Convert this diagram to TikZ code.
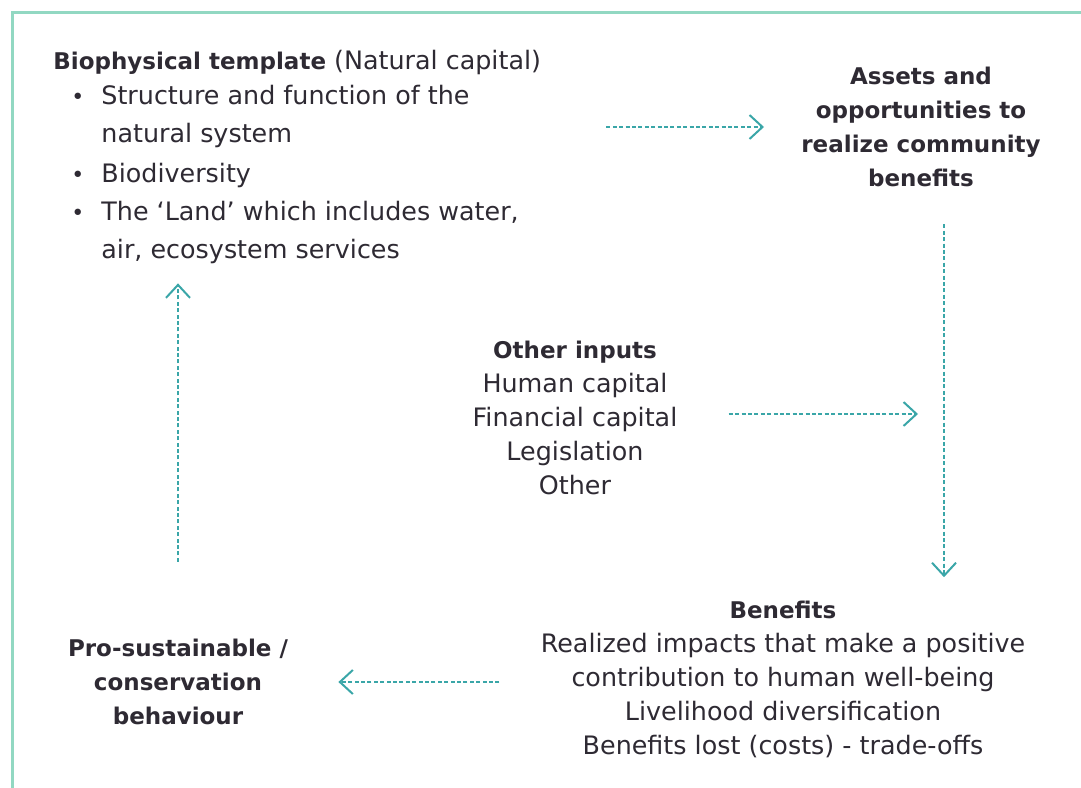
\documentclass[tikz,border=0pt]{standalone}
\usepackage{fontspec}
\setmainfont{DejaVu Sans}
\usepackage{tikz}
\usetikzlibrary{positioning, arrows.meta}
\definecolor{frameteal}{HTML}{92D8C2}
\definecolor{arrowteal}{HTML}{3AA6A8}
\definecolor{inkgray}{HTML}{2E2A33}
\tikzstyle{txt}   = [inner sep=0pt, text=inkgray, font=\fontsize{12.7}{17}\selectfont, align=center]
\tikzstyle{boldtxt} = [txt, font=\bfseries\fontsize{11.5}{17}\selectfont]
\tikzstyle{flow}  = [draw=arrowteal, line width=1pt, dash pattern=on 2pt off 1.2pt, -{Straight Barb[length=6.5pt, width=12pt, line width=1pt]}]
\newcommand{\hd}[1]{{\bfseries\fontsize{11.5}{17}\selectfont #1}}
\newcommand{\bitem}[1]{\makebox[24pt][l]{\hspace{9pt}{\fontsize{11}{17}\selectfont\textbullet}}#1}

\begin{document}
\begin{tikzpicture}[x=0.5pt, y=-0.5pt]
            \useasboundingbox (0,0) rectangle (1081,787);
            \clip (0,0) rectangle (1081,787);
            \draw[frameteal, line width=1.5pt] (1100,12) -- (12,12) -- (12,800);

            \node[txt, align=left, anchor=north west, font=\fontsize{12.7}{19}\selectfont] (bio) at (53,50)
                {\hd{Biophysical template} (Natural capital)\\[-1.5pt]
                 \bitem{Structure and function of the}\\
                 \hspace*{24pt}natural system\\[1pt]
                 \bitem{Biodiversity}\\
                 \bitem{The `Land' which includes water,}\\
                 \hspace*{24pt}air, ecosystem services};
            \node[boldtxt] (assets) at (921,127)
                {Assets and\\opportunities to\\realize community\\benefits};
            \node[txt] (inputs) at (575,418)
                {\hd{Other inputs}\\Human capital\\Financial capital\\Legislation\\Other};
            \node[txt] (benefits) at (783,679)
                {\hd{Benefits}\\Realized impacts that make a positive\\contribution to human well-being\\Livelihood diversification\\Benefits lost (costs) - trade-offs};
            \node[boldtxt] (pro) at (178,682)
                {Pro-sustainable /\\conservation\\behaviour};

            \draw[flow, shorten <=32.5pt, shorten >=18.5pt] (bio.east |- assets.west) -- (assets.west);
            \draw[flow, shorten <=18.5pt, shorten >=11.5pt] ([xshift=11.5pt]assets.south) -- ([xshift=11.5pt]assets.south |- benefits.north);
            \draw[flow, shorten <=25.5pt] ([yshift=2pt]inputs.east) -- ([yshift=2pt]inputs.east -| 918,0);
            \draw[flow, shorten <=20.5pt, shorten >=25pt] (benefits.west |- pro.east) -- (pro.east);
            \draw[flow, shorten <=38.5pt, shorten >=9.5pt] (pro.north) -- (pro.north |- bio.south);
        \end{tikzpicture}
\end{document}
